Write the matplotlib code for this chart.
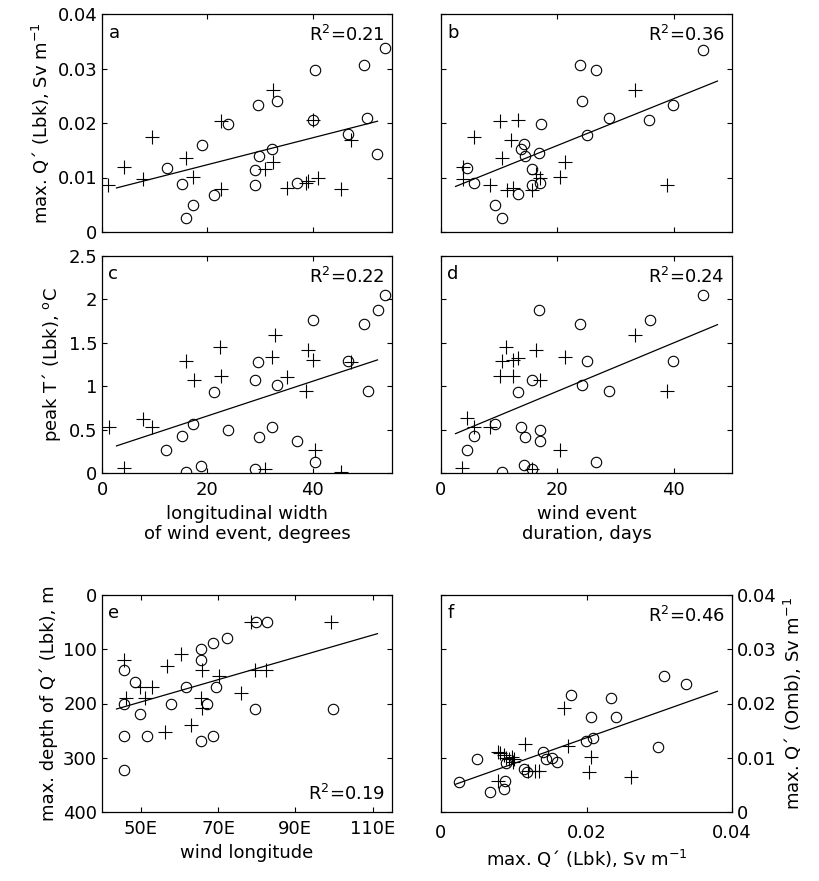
import numpy as np
import matplotlib.pyplot as plt

plt.rcParams['font.family'] = ['DejaVu Sans']
plt.rcParams['font.size'] = 13
plt.rcParams['mathtext.default'] = 'regular'

# ---- panel a : width of wind event vs max Q' (Lbk) ----
a_circ_x = [16.0, 17.3, 12.4, 15.1, 18.9, 23.9, 21.3, 29.5, 29.0, 29.0, 29.7,
            32.2, 33.1, 40.4, 40.1, 36.9, 46.6, 49.6, 50.2, 52.1, 53.7]
a_circ_y = [0.0025, 0.0049, 0.0118, 0.0088, 0.0160, 0.0199, 0.0067, 0.0233,
            0.0114, 0.0086, 0.0140, 0.0153, 0.0240, 0.0298, 0.0206, 0.0089,
            0.0179, 0.0307, 0.0209, 0.0144, 0.0337]
a_plus_x = [1.1, 4.2, 7.8, 9.4, 16.0, 17.3, 22.5, 22.5, 32.5, 31.0, 32.5, 35.0,
            38.6, 39.1, 40.9, 40.1, 45.3, 47.3]
a_plus_y = [0.0086, 0.0120, 0.0097, 0.0175, 0.0135, 0.0101, 0.0204, 0.0078,
            0.0261, 0.0115, 0.0129, 0.0081, 0.0089, 0.0093, 0.0099, 0.0206,
            0.0078, 0.0169]

# ---- panel b : duration vs max Q' (Lbk) ----
b_circ_x = [4.4, 5.6, 9.2, 10.4, 13.3, 13.7, 14.3, 14.5, 15.7, 15.6, 16.8,
            17.0, 17.2, 23.9, 26.7, 24.2, 25.0, 28.9, 35.8, 39.9, 45.1]
b_circ_y = [0.0118, 0.0089, 0.0049, 0.0025, 0.0069, 0.0153, 0.0161, 0.0140,
            0.0115, 0.0086, 0.0145, 0.0089, 0.0199, 0.0306, 0.0298, 0.0240,
            0.0178, 0.0209, 0.0206, 0.0233, 0.0334]
b_plus_x = [3.8, 3.8, 5.6, 8.4, 10.1, 10.4, 11.3, 12.3, 13.3, 12.1, 15.6, 16.4,
            17.0, 20.4, 21.3, 33.3, 38.9]
b_plus_y = [0.0120, 0.0098, 0.0175, 0.0086, 0.0204, 0.0135, 0.0077, 0.0080,
            0.0206, 0.0169, 0.0077, 0.0107, 0.0099, 0.0101, 0.0129, 0.0261,
            0.0086]

# ---- panel c : width vs peak T' ----
c_circ_x = [16.0, 18.7, 12.2, 15.1, 17.3, 21.3, 23.9, 29.0, 29.8, 32.2, 29.0,
            29.6, 33.1, 36.9, 40.4, 40.1, 46.6, 49.6, 52.3, 50.4, 53.7]
c_circ_y = [0.01, 0.08, 0.26, 0.43, 0.56, 0.93, 0.50, 0.05, 0.41, 0.53, 1.07,
            1.28, 1.01, 0.37, 0.13, 1.76, 1.29, 1.72, 1.88, 0.95, 2.05]
c_plus_x = [1.3, 4.2, 7.8, 9.4, 16.0, 17.5, 22.3, 22.5, 32.2, 32.8, 31.0, 35.0,
            38.6, 39.1, 40.1, 40.4, 45.3, 47.3]
c_plus_y = [0.53, 0.06, 0.62, 0.53, 1.29, 1.07, 1.45, 1.12, 1.34, 1.59, 0.05,
            1.11, 0.95, 1.42, 1.30, 0.26, 0.01, 1.28]

# ---- panel d : duration vs peak T' ----
d_circ_x = [4.4, 5.6, 9.2, 10.4, 13.3, 13.7, 14.3, 14.4, 15.6, 15.6, 17.0,
            17.0, 16.8, 23.9, 24.3, 25.0, 26.7, 28.8, 35.9, 39.9, 45.1]
d_circ_y = [0.26, 0.43, 0.56, 0.01, 0.93, 0.53, 0.09, 0.41, 1.07, 0.05, 0.50,
            0.37, 1.88, 1.72, 1.01, 1.29, 0.13, 0.95, 1.76, 1.29, 2.05]
d_plus_x = [3.6, 4.4, 5.6, 8.4, 10.1, 10.4, 11.1, 12.4, 12.4, 13.3, 15.6, 16.4,
            17.0, 20.4, 21.3, 33.3, 38.9]
d_plus_y = [0.06, 0.63, 0.53, 0.53, 1.12, 1.29, 1.45, 1.12, 1.30, 1.32, 0.05,
            1.42, 1.07, 0.26, 1.34, 1.59, 0.95]

# ---- panel e : wind longitude vs max depth of Q' ----
e_circ_x = [45.7, 45.7, 45.7, 45.7, 48.6, 49.8, 51.7, 57.8, 61.8, 65.7, 65.7,
            65.7, 67.2, 68.7, 68.7, 69.6, 72.4, 79.7, 79.5, 82.8, 99.8]
e_circ_y = [139, 201, 260, 322, 160, 219, 260, 201, 170, 100, 120, 270, 201,
            88, 260, 170, 80, 49, 211, 49, 211]
e_plus_x = [45.7, 46.3, 49.8, 51.0, 52.9, 56.2, 56.9, 60.4, 62.9, 65.5, 65.8,
            65.8, 70.2, 75.9, 78.6, 79.5, 82.5, 99.2]
e_plus_y = [120, 190, 170, 190, 170, 252, 131, 109, 240, 190, 139, 209, 149,
            180, 49, 139, 139, 49]

# ---- panel f : max Q' (Lbk) vs max Q' (Omb) ----
f_circ_x = [0.0025, 0.0049, 0.0067, 0.0086, 0.0088, 0.0089, 0.0114, 0.0118,
            0.0140, 0.0144, 0.0153, 0.0160, 0.0179, 0.0199, 0.0206, 0.0209,
            0.0233, 0.0240, 0.0298, 0.0307, 0.0337]
f_circ_y = [0.0055, 0.0097, 0.0037, 0.0043, 0.0058, 0.0090, 0.0079, 0.0074,
            0.0111, 0.0097, 0.0099, 0.0093, 0.0216, 0.0130, 0.0176, 0.0136,
            0.0211, 0.0176, 0.0120, 0.0251, 0.0236]
f_plus_x = [0.0078, 0.0078, 0.0081, 0.0086, 0.0089, 0.0093, 0.0097, 0.0099,
            0.0101, 0.0115, 0.0120, 0.0129, 0.0135, 0.0169, 0.0175, 0.0204,
            0.0206, 0.0261]
f_plus_y = [0.0058, 0.0111, 0.0108, 0.0105, 0.0100, 0.0097, 0.0102, 0.0093,
            0.0098, 0.0125, 0.0076, 0.0076, 0.0076, 0.0191, 0.0122, 0.0074,
            0.0102, 0.0065]

r2_text = {'a': '0.21', 'b': '0.36', 'c': '0.22', 'd': '0.24', 'e': '0.19', 'f': '0.46'}

W, H = 819, 881
fig = plt.figure(figsize=(W / 100, H / 100), dpi=100)


def make_ax(x0, y0, x1, y1):
    # pixel box -> figure fraction
    return fig.add_axes([x0 / W, 1 - y1 / H, (x1 - x0) / W, (y1 - y0) / H])


def scatter_panel(ax, cx, cy, px, py, xlim, letter, r2_pos='top'):
    ax.plot(cx, cy, 'o', mfc='none', mec='k', ms=7.5, mew=0.8, ls='none')
    ax.plot(px, py, '+', color='k', ms=10, mew=0.8, ls='none')
    xs = np.array(cx + px)
    ys = np.array(cy + py)
    k, b = np.polyfit(xs, ys, 1)
    span = xlim[1] - xlim[0]
    xl = np.array([xlim[0] + 0.05 * span, xlim[0] + 0.95 * span])
    ax.plot(xl, k * xl + b, color='k', lw=0.9)
    ax.set_xlim(xlim)
    ax.text(0.022, 0.915, letter, transform=ax.transAxes, ha='left', va='center')
    if r2_pos == 'top':
        ax.text(0.975, 0.905, r'R$^2$=' + r2_text[letter], transform=ax.transAxes,
                ha='right', va='center')
    else:
        ax.text(0.975, 0.085, r'R$^2$=' + r2_text[letter], transform=ax.transAxes,
                ha='right', va='center')
    ax.tick_params(direction='in', top=True, right=True, length=3.5, width=0.8)
    ax.tick_params(axis='x', pad=6)
    for s in ax.spines.values():
        s.set_linewidth(0.9)


fmt = lambda v: '%g' % v

# panel a
ax_a = make_ax(102, 14, 392, 232)
scatter_panel(ax_a, a_circ_x, a_circ_y, a_plus_x, a_plus_y, (0, 55), 'a')
ax_a.set_ylim(0, 0.04)
ax_a.set_yticks([0, 0.01, 0.02, 0.03, 0.04])
ax_a.set_yticklabels([fmt(v) for v in [0, 0.01, 0.02, 0.03, 0.04]])
ax_a.set_xticks([0, 20, 40])
ax_a.set_xticklabels([])
ax_a.set_ylabel(r'max. Q´ (Lbk), Sv m$^{-1}$')

# panel b
ax_b = make_ax(441, 14, 732, 232)
scatter_panel(ax_b, b_circ_x, b_circ_y, b_plus_x, b_plus_y, (0, 50), 'b')
ax_b.set_ylim(0, 0.04)
ax_b.set_yticks([0, 0.01, 0.02, 0.03, 0.04])
ax_b.set_yticklabels([])
ax_b.set_xticks([0, 20, 40])
ax_b.set_xticklabels([])

# panel c
ax_c = make_ax(102, 256, 392, 473)
scatter_panel(ax_c, c_circ_x, c_circ_y, c_plus_x, c_plus_y, (0, 55), 'c')
ax_c.set_ylim(0, 2.5)
ax_c.set_yticks([0, 0.5, 1, 1.5, 2, 2.5])
ax_c.set_yticklabels([fmt(v) for v in [0, 0.5, 1, 1.5, 2, 2.5]])
ax_c.set_xticks([0, 20, 40])
ax_c.set_ylabel(r'peak T´ (Lbk), $^o$C')
ax_c.set_xlabel('longitudinal width\nof wind event, degrees', linespacing=1.15)

# panel d
ax_d = make_ax(441, 256, 732, 473)
scatter_panel(ax_d, d_circ_x, d_circ_y, d_plus_x, d_plus_y, (0, 50), 'd')
ax_d.set_ylim(0, 2.5)
ax_d.set_yticks([0, 0.5, 1, 1.5, 2, 2.5])
ax_d.set_yticklabels([])
ax_d.set_xticks([0, 20, 40])
ax_d.set_xlabel('wind event\nduration, days', linespacing=1.15)

# panel e
ax_e = make_ax(102, 595, 392, 812)
scatter_panel(ax_e, e_circ_x, e_circ_y, e_plus_x, e_plus_y, (40, 115), 'e', r2_pos='bottom')
ax_e.set_ylim(400, 0)
ax_e.set_yticks([0, 100, 200, 300, 400])
ax_e.set_xticks([50, 70, 90, 110])
ax_e.set_xticklabels(['50E', '70E', '90E', '110E'])
ax_e.set_ylabel('max. depth of Q´ (Lbk), m')
ax_e.set_xlabel('wind longitude')

# panel f
ax_f = make_ax(441, 595, 732, 812)
scatter_panel(ax_f, f_circ_x, f_circ_y, f_plus_x, f_plus_y, (0, 0.04), 'f')
ax_f.set_ylim(0, 0.04)
ax_f.set_yticks([0, 0.01, 0.02, 0.03, 0.04])
ax_f.set_yticklabels([fmt(v) for v in [0, 0.01, 0.02, 0.03, 0.04]])
ax_f.yaxis.tick_right()
ax_f.yaxis.set_label_position('right')
ax_f.tick_params(direction='in', left=True, right=True, labelleft=False, labelright=True)
ax_f.tick_params(axis='x', pad=9)
ax_f.set_xticks([0, 0.02, 0.04])
ax_f.set_xticklabels([fmt(v) for v in [0, 0.02, 0.04]])
ax_f.set_ylabel(r'max. Q´ (Omb), Sv m$^{-1}$')
ax_f.set_xlabel(r'max. Q´ (Lbk), Sv m$^{-1}$')

fig.savefig('out.png', dpi=100)
